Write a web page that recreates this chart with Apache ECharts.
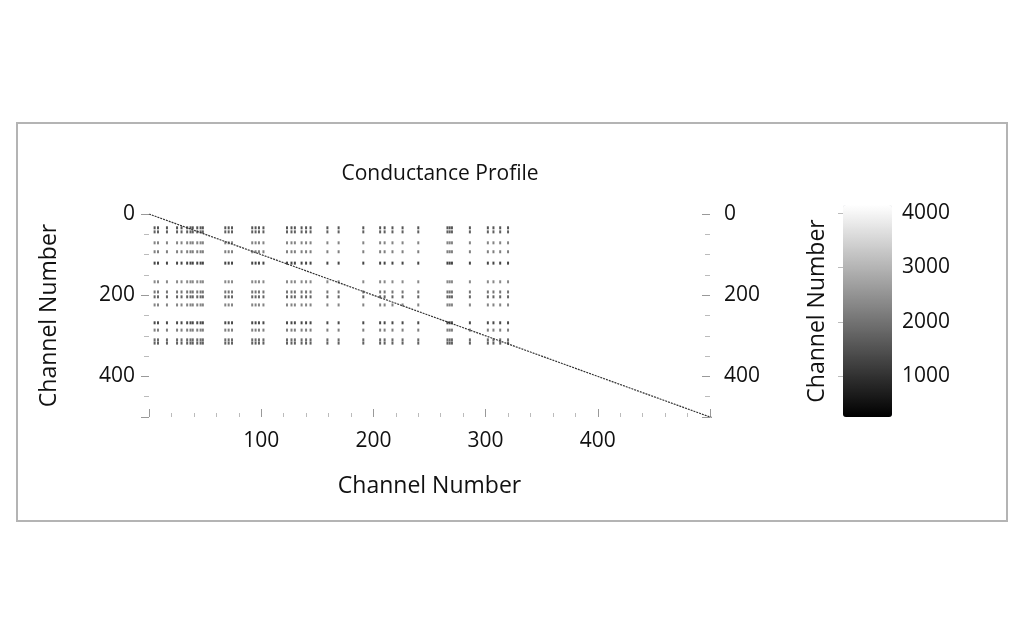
<!DOCTYPE html>
<html>
<head>
  <meta charset="utf-8">
  <title>Conductance Profile</title>
  <script src="https://cdn.jsdelivr.net/npm/echarts@6.0.0/dist/echarts.min.js"></script>
</head>
<body style="margin:0;background:#fff">
  <div style="position:absolute;left:16px;top:122px;width:988px;height:396px;border:2px solid #b4b4b4"></div>
  <div id="chart" style="position:absolute;left:0;top:0;width:1024px;height:640px"></div>
  <script>
    // channel indices where the sparse pattern has entries
    var rowChannels = [34, 44, 71, 93, 121, 167, 192, 204, 224, 268, 286, 310, 318];
    var rowLevels = [900, 1100, 1800, 1700, 600, 1900, 1500, 1200, 1800, 700, 1700, 1300, 1100];
    var colChannels = [5, 8, 16, 25, 29, 34, 37, 39, 43, 46, 48, 68, 71, 74, 92, 95, 98, 102,
      123, 127, 130, 136, 140, 144, 159, 169, 191, 206, 210, 217, 226, 240, 266, 268, 270, 286,
      302, 307, 313, 320];
    var diagEnds = [[0, 0], [510, 510]];
    var barTicks = [1000, 2000, 3000, 4000];

    var cells = [];
    for (var r = 0; r < rowChannels.length; r++) {
      for (var c = 0; c < colChannels.length; c++) {
        cells.push([colChannels[c], rowChannels[r], rowLevels[r]]);
      }
    }

    var font = 'Open Sans';
    var tickStyle = { color: '#999' };
    var chart = echarts.init(document.getElementById('chart'));
    chart.setOption({
      textStyle: { fontFamily: font },
      title: {
        text: 'Conductance Profile', left: 435, top: 159, textAlign: 'center',
        textStyle: { fontFamily: font, fontSize: 21, fontWeight: 'normal', color: '#111' }
      },
      grid: [
        { left: 149, right: 314, top: 214, bottom: 223 },
        { left: 843, width: 49, top: 205, height: 212 }
      ],
      xAxis: [
        {
          gridIndex: 0, type: 'value', min: 0, max: 500, interval: 100, position: 'bottom',
          name: 'Channel Number', nameLocation: 'middle', nameGap: 58,
          nameTextStyle: { fontSize: 23, color: '#111' },
          axisLine: { show: false, onZero: false }, splitLine: { show: false },
          axisTick: { inside: true, length: 8, lineStyle: tickStyle },
          minorTick: { show: true, splitNumber: 5, length: 4, lineStyle: { color: '#bbb' } },
          axisLabel: { fontSize: 21, color: '#111', margin: 14, showMinLabel: false, showMaxLabel: false }
        },
        { gridIndex: 1, type: 'value', show: false, min: 0, max: 1 }
      ],
      yAxis: [
        {
          gridIndex: 0, type: 'value', min: 0, max: 500, interval: 200, inverse: true,
          name: 'Channel Number', nameLocation: 'middle', nameGap: 88,
          nameTextStyle: { fontSize: 23, color: '#111' },
          axisLine: { show: false, onZero: false }, splitLine: { show: false },
          axisTick: { length: 8, lineStyle: tickStyle },
          minorTick: { show: true, splitNumber: 4, length: 5, lineStyle: { color: '#bbb' } },
          axisLabel: { fontSize: 21, color: '#111', margin: 14, showMaxLabel: false }
        },
        {
          gridIndex: 0, type: 'value', min: 0, max: 500, interval: 200, inverse: true, position: 'right',
          axisLine: { show: false, onZero: false }, splitLine: { show: false },
          axisTick: { length: 8, inside: true, lineStyle: tickStyle },
          minorTick: { show: true, splitNumber: 4, length: 5, lineStyle: { color: '#bbb' } },
          axisLabel: { fontSize: 21, color: '#111', margin: 14, showMaxLabel: false }
        },
        {
          gridIndex: 1, type: 'value', min: 250, max: 4150, position: 'right',
          axisLine: { show: false }, splitLine: { show: false },
          axisTick: { show: true, customValues: barTicks, length: 5, inside: true, lineStyle: { color: '#bbb' } },
          axisLabel: {
            fontSize: 21, color: '#111', margin: 10, customValues: barTicks,
            formatter: function (v) { return String(v); }
          }
        },
        {
          gridIndex: 1, type: 'value', min: 250, max: 4150, position: 'left',
          name: 'Channel Number', nameLocation: 'middle', nameGap: 14,
          nameTextStyle: { fontSize: 23, color: '#111' },
          axisLine: { show: false }, splitLine: { show: false },
          axisTick: { show: false }, axisLabel: { show: false }
        }
      ],
      visualMap: {
        type: 'continuous', seriesIndex: 0, min: 250, max: 4150, dimension: 2,
        left: 843, top: 205, itemWidth: 49, itemHeight: 212, text: ['', ''],
        calculable: false, showLabel: false, padding: 0,
        inRange: { color: ['#000000', '#ffffff'] }
      },
      series: [
        {
          type: 'scatter', xAxisIndex: 0, yAxisIndex: 0, data: cells,
          symbol: 'rect', symbolSize: [2, 3], silent: true
        },
        {
          type: 'line', xAxisIndex: 0, yAxisIndex: 0, data: diagEnds, symbol: 'none',
          lineStyle: { color: '#333', width: 1.2, type: [2, 1] }, silent: true
        }
      ]
    });
  </script>
</body>
</html>
